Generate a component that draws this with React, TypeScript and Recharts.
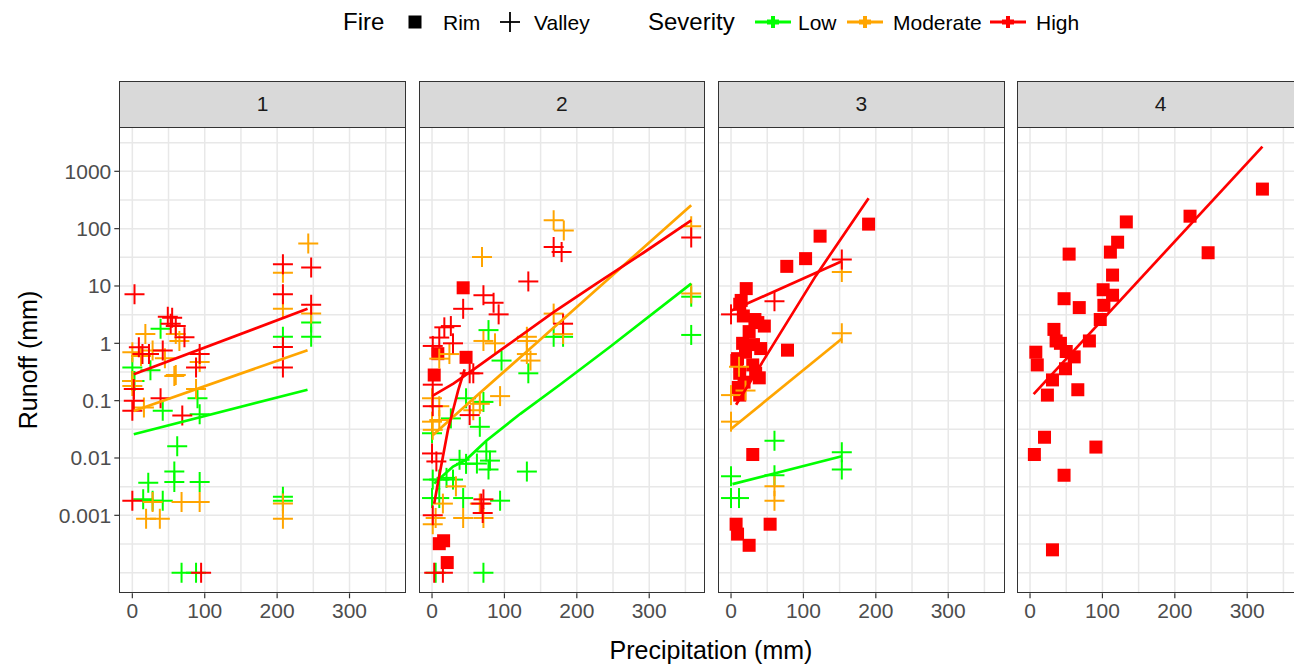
import React from "react";
import { ScatterChart, Scatter, XAxis, YAxis, CartesianGrid } from "recharts";

type Pt = [number, number]; // [precipitation mm, runoff mm]

// ---- facet labels / ticks ----
const facetLabels = ["1", "2", "3", "4"];
const xTicks = [0, 100, 200, 300];
const xMinorTicks = [50, 150, 250, 350];
const yTickValues = [0.001, 0.01, 0.1, 1, 10, 100, 1000];
const yTickLabels = ["0.001", "0.01", "0.1", "1", "10", "100", "1000"];
const yMinorValues = [0.0001, 0.000316, 0.00316, 0.0316, 0.316, 3.16, 31.6, 316, 3162];

// ---- facet 1 (Valley) ----
const p1Low: Pt[] = [
  [0, 0.38], [0, 0.22], [3, 0.22], [25, 0.34], [39, 1.8], [42, 0.067], [90, 0.11], [93, 0.058],
  [62, 0.016], [58, 0.0058], [58, 0.0038], [22, 0.0037], [93, 0.0038], [15, 0.0019], [28, 0.0018],
  [42, 0.0018], [68, 0.0001], [88, 0.0001], [208, 0.0021], [208, 0.0018], [208, 1.3], [247, 2.3], [247, 1.3],
];
const p1Mod: Pt[] = [
  [18, 1.45], [0, 0.7], [28, 0.75], [60, 1.45], [65, 1.1], [58, 0.27], [60, 0.28], [93, 0.47], [88, 0.16],
  [16, 0.076], [0, 0.22], [0, 0.18], [28, 0.0017], [68, 0.0017], [93, 0.0017], [19, 0.00087], [38, 0.00087],
  [208, 17], [208, 4], [208, 0.0016], [208, 0.00087], [243, 55], [247, 3.3], [12, 0.6], [45, 0.55],
];
const p1High: Pt[] = [
  [3, 7.2], [49, 2.9], [55, 2.8], [60, 2.0], [53, 2.2], [9, 0.85], [14, 0.65], [23, 0.65], [42, 0.75],
  [72, 1.27], [93, 0.65], [88, 0.38], [2, 0.1], [0, 0.067], [39, 0.11], [69, 0.055], [2, 0.16], [0, 0.0018],
  [95, 0.0001], [208, 24], [208, 7.2], [208, 0.86], [208, 0.38], [247, 21], [247, 4.7],
];
const p1LineLow: Pt[] = [[2, 0.026], [242, 0.155]];
const p1LineMod: Pt[] = [[2, 0.066], [242, 0.76]];
const p1LineHigh: Pt[] = [[2, 0.29], [242, 4.0]];

// ---- facet 2 (Rim + Valley) ----
const p2Rim: Pt[] = [[43, 9.3], [8, 0.66], [3, 0.28], [47, 0.57], [10, 0.00032], [16, 0.00036], [21, 0.00015]];
const p2Low: Pt[] = [
  [78, 1.7], [96, 0.5], [133, 0.3], [71, 0.095], [47, 0.11], [26, 0.049], [66, 0.035], [0, 0.027],
  [75, 0.013], [78, 0.0063], [131, 0.0058], [38, 0.0093], [47, 0.0079], [1, 0.0042], [10, 0.0042],
  [20, 0.0045], [29, 0.0042], [0, 0.002], [10, 0.002], [43, 0.002], [94, 0.0018], [71, 0.0001], [5, 0.0001],
  [168, 1.3], [181, 1.3], [358, 6.5], [358, 1.4], [62, 0.008], [80, 0.009],
];
const p2Mod: Pt[] = [
  [94, 0.12], [71, 1.1], [87, 1.0], [131, 1.1], [136, 0.5], [0, 0.11], [0, 0.043], [1, 0.031], [10, 0.046],
  [10, 0.08], [57, 0.068], [15, 0.0016], [5, 0.0009], [43, 0.0009], [66, 0.0016], [71, 0.0009], [33, 0.0032],
  [168, 140], [182, 93], [69, 32], [168, 3.3], [181, 1.45], [131, 0.65], [131, 1.3], [358, 110], [358, 7.4],
  [1, 0.0007], [10, 0.54], [24, 0.65], [66, 0.088],
];
const p2High: Pt[] = [
  [133, 12], [71, 6.9], [92, 3.2], [43, 4.0], [17, 1.9], [26, 2.0], [10, 1.26], [1, 0.9], [29, 1.0],
  [52, 0.3], [1, 0.19], [1, 0.08], [52, 0.056], [0, 0.012], [6, 0.0087], [71, 0.0019], [1, 0.001],
  [3, 0.0001], [15, 0.0001], [358, 70], [168, 48], [179, 39], [181, 2.2], [68, 0.0016], [70, 0.0011],
  [85, 5.1], [57, 0.3],
];
const p2LineLow: Pt[] = [[3, 0.0036], [29, 0.0071], [47, 0.0093], [75, 0.02], [122, 0.059], [178, 0.195], [246, 0.87], [358, 11]];
const p2LineMod: Pt[] = [[1, 0.025], [52, 0.095], [131, 0.72], [358, 257]];
const p2LineHigh: Pt[] = [[0, 0.12], [30, 0.2], [60, 0.37], [100, 0.85], [168, 3.5], [227, 11], [292, 38], [358, 140]];
const p2LineRim: Pt[] = [[3, 0.0016], [8, 0.0036], [15, 0.0105], [22, 0.031], [29, 0.068], [36, 0.15], [45, 0.35]];

// ---- facet 3 (Rim + Valley) ----
const p3Rim: Pt[] = [
  [190, 120], [123, 74], [103, 30], [77, 22], [21, 9], [14, 5.6], [37, 2.3], [46, 2.0], [25, 1.6], [16, 1.0],
  [41, 0.81], [78, 0.76], [9, 0.54], [30, 0.42], [39, 0.25], [18, 0.21], [12, 0.125], [30, 0.0115], [7, 0.0007],
  [9, 0.00047], [25, 0.0003], [54, 0.0007], [17, 3.0], [33, 2.6], [20, 0.7], [31, 0.95], [12, 0.3], [34, 0.3],
  [12, 4.8], [8, 0.5], [10, 0.17],
];
const p3Low: Pt[] = [[60, 0.02], [153, 0.0126], [153, 0.0063], [0, 0.0048], [0, 0.002], [11, 0.002], [60, 0.005]];
const p3Mod: Pt[] = [[153, 17.5], [153, 1.5], [11, 0.39], [0, 0.125], [20, 0.15], [0, 0.043], [60, 0.0032], [60, 0.0018]];
const p3High: Pt[] = [[0, 3.2], [60, 5.4], [153, 29]];
const p3LineLow: Pt[] = [[2, 0.0035], [153, 0.0107]];
const p3LineMod: Pt[] = [[0, 0.032], [153, 1.2]];
const p3LineHigh: Pt[] = [[0, 3.7], [153, 27]];
const p3LineRim: Pt[] = [[7, 0.085], [117, 15], [190, 340]];

// ---- facet 4 (Rim) ----
const p4Rim: Pt[] = [
  [54, 36], [121, 58], [111, 39], [133, 131], [114, 15.5], [101, 8.6], [114, 6.9], [47, 6], [68, 4.2],
  [102, 4.6], [97, 2.6], [33, 1.75], [82, 1.1], [8, 0.7], [50, 0.72], [61, 0.58], [10, 0.42], [36, 1.1],
  [49, 0.36], [31, 0.23], [66, 0.155], [24, 0.125], [20, 0.023], [6, 0.0115], [91, 0.0155], [47, 0.005],
  [31, 0.00025], [221, 165], [246, 38], [321, 490], [42, 1.0],
];
const p4LineRim: Pt[] = [[5, 0.13], [321, 2700]];

// ---- styling ----
const FONT = '"Liberation Sans", Arial, Helvetica, sans-serif';
const GREEN = "#00FF00";
const ORANGE = "#FFA500";
const RED = "#FF0000";
const INK = "#333333";

const PANEL_LEFT0 = 119.3;
const PANEL_STEP = 299.3;
const PANEL_W = 286.7;
const PANEL_TOP = 126.7;
const PANEL_H = 466.3;
const STRIP_TOP = 81;
const X_AXIS_H = 50;
const X_DOMAIN: [number, number] = [-18, 378];
const Y_DOMAIN: [number, number] = [-4.36, 3.773];

const toXY = (pts: Pt[]) => pts.map(([x, v]) => ({ x, y: Math.log10(v) }));
const yTickPos = yTickValues.map((v) => Math.round(Math.log10(v)));
const yGrid = [...yTickPos, ...yMinorValues.map((v) => Math.log10(v))];
const xGrid = [...xTicks, ...xMinorTicks];

interface Facet {
  label: string;
  rim: Pt[];
  low: Pt[];
  mod: Pt[];
  high: Pt[];
  lines: { color: string; pts: Pt[] }[];
}

const facets: Facet[] = [
  {
    label: facetLabels[0], rim: [], low: p1Low, mod: p1Mod, high: p1High,
    lines: [{ color: GREEN, pts: p1LineLow }, { color: ORANGE, pts: p1LineMod }, { color: RED, pts: p1LineHigh }],
  },
  {
    label: facetLabels[1], rim: p2Rim, low: p2Low, mod: p2Mod, high: p2High,
    lines: [
      { color: GREEN, pts: p2LineLow }, { color: ORANGE, pts: p2LineMod },
      { color: RED, pts: p2LineHigh }, { color: RED, pts: p2LineRim },
    ],
  },
  {
    label: facetLabels[2], rim: p3Rim, low: p3Low, mod: p3Mod, high: p3High,
    lines: [
      { color: GREEN, pts: p3LineLow }, { color: ORANGE, pts: p3LineMod },
      { color: RED, pts: p3LineHigh }, { color: RED, pts: p3LineRim },
    ],
  },
  {
    label: facetLabels[3], rim: p4Rim, low: [], mod: [], high: [],
    lines: [{ color: RED, pts: p4LineRim }],
  },
];

const crossShape = (color: string) => (p: any) =>
  p.cx == null ? <g /> : (
    <g stroke={color} strokeWidth={2}>
      <line x1={p.cx - 10} y1={p.cy} x2={p.cx + 10} y2={p.cy} />
      <line x1={p.cx} y1={p.cy - 10} x2={p.cx} y2={p.cy + 10} />
    </g>
  );

const squareShape = (color: string) => (p: any) =>
  p.cx == null ? <g /> : <rect x={p.cx - 6.5} y={p.cy - 6.5} width={13} height={13} fill={color} />;

const noShape = () => <g />;

const tickStyle = { fill: "#4d4d4d", fontSize: 21, fontFamily: FONT };

function FacetPanel({ facet, index }: { facet: Facet; index: number }) {
  const first = index === 0;
  const left = PANEL_LEFT0 + PANEL_STEP * index;
  const yAxisW = first ? PANEL_LEFT0 : 0;
  return (
    <>
      <div
        style={{
          position: "absolute", left, top: STRIP_TOP, width: PANEL_W, height: PANEL_TOP - STRIP_TOP + 1,
          boxSizing: "border-box", background: "#d9d9d9", border: `1.2px solid ${INK}`,
          display: "flex", alignItems: "center", justifyContent: "center",
          fontFamily: FONT, fontSize: 21, color: "#1a1a1a",
        }}
      >
        {facet.label}
      </div>
      <div style={{ position: "absolute", left: left - yAxisW, top: PANEL_TOP }}>
        <ScatterChart
          width={PANEL_W + yAxisW}
          height={PANEL_H + X_AXIS_H}
          margin={{ top: 0, right: 0, bottom: 0, left: 0 }}
        >
          <CartesianGrid
            stroke="#e8e8e8"
            strokeWidth={1.5}
            horizontalValues={yGrid}
            verticalValues={xGrid}
          />
          <XAxis
            type="number"
            dataKey="x"
            domain={X_DOMAIN}
            allowDataOverflow
            ticks={xTicks}
            interval={0}
            axisLine={false}
            tickLine={{ stroke: INK, strokeWidth: 1.2 }}
            tickSize={5}
            tickMargin={5}
            tick={tickStyle}
            height={X_AXIS_H}
          />
          <YAxis
            type="number"
            dataKey="y"
            domain={Y_DOMAIN}
            allowDataOverflow
            ticks={yTickPos}
            interval={0}
            hide={!first}
            width={yAxisW}
            axisLine={false}
            tickLine={{ stroke: INK, strokeWidth: 1.2 }}
            tickSize={5}
            tickMargin={3}
            tick={tickStyle}
            tickFormatter={(_v: number, i: number) => yTickLabels[i]}
          />
          {facet.rim.length > 0 && (
            <Scatter data={toXY(facet.rim)} shape={squareShape(RED)} isAnimationActive={false} />
          )}
          {facet.low.length > 0 && (
            <Scatter data={toXY(facet.low)} shape={crossShape(GREEN)} isAnimationActive={false} />
          )}
          {facet.mod.length > 0 && (
            <Scatter data={toXY(facet.mod)} shape={crossShape(ORANGE)} isAnimationActive={false} />
          )}
          {facet.high.length > 0 && (
            <Scatter data={toXY(facet.high)} shape={crossShape(RED)} isAnimationActive={false} />
          )}
          {facet.lines.map((l, i) => (
            <Scatter
              key={i}
              data={toXY(l.pts)}
              line={{ stroke: l.color, strokeWidth: 2.7 }}
              lineJointType="linear"
              shape={noShape}
              isAnimationActive={false}
            />
          ))}
        </ScatterChart>
      </div>
      <div
        style={{
          position: "absolute", left, top: PANEL_TOP, width: PANEL_W, height: PANEL_H,
          boxSizing: "border-box", border: `1.2px solid ${INK}`, pointerEvents: "none",
        }}
      />
    </>
  );
}

const textAt = (left: number, size: number, text: string) => (
  <div
    style={{
      position: "absolute", left, top: 22, transform: "translateY(-50%)",
      fontFamily: FONT, fontSize: size, color: "#000", whiteSpace: "nowrap", lineHeight: 1,
    }}
  >
    {text}
  </div>
);

function SeverityKey({ cx, color }: { cx: number; color: string }) {
  return (
    <svg width={38} height={20} style={{ position: "absolute", left: cx - 19, top: 12 }}>
      <line x1={1} y1={10} x2={37} y2={10} stroke={color} strokeWidth={3} />
      <line x1={13} y1={10} x2={25} y2={10} stroke={color} strokeWidth={5} />
      <line x1={19} y1={4} x2={19} y2={16} stroke={color} strokeWidth={4} />
    </svg>
  );
}

export default function App() {
  return (
    <div
      style={{
        position: "fixed", left: 0, top: 0, width: 1294, height: 667,
        overflow: "hidden", background: "#fff",
      }}
    >
      {/* legend */}
      {textAt(343, 24, "Fire")}
      <svg width={14} height={14} style={{ position: "absolute", left: 408, top: 15 }}>
        <rect x={0.5} y={0.5} width={13} height={13} fill="#000" />
      </svg>
      {textAt(443, 21, "Rim")}
      <svg width={22} height={22} style={{ position: "absolute", left: 499, top: 11 }}>
        <line x1={1} y1={11} x2={21} y2={11} stroke="#000" strokeWidth={1.8} />
        <line x1={11} y1={1} x2={11} y2={21} stroke="#000" strokeWidth={1.8} />
      </svg>
      {textAt(534, 21, "Valley")}
      {textAt(648, 24, "Severity")}
      <SeverityKey cx={773} color={GREEN} />
      {textAt(798, 21, "Low")}
      <SeverityKey cx={865} color={ORANGE} />
      {textAt(893, 21, "Moderate")}
      <SeverityKey cx={1008} color={RED} />
      {textAt(1036, 21, "High")}

      {facets.map((f, i) => (
        <FacetPanel key={i} facet={f} index={i} />
      ))}

      {/* axis titles */}
      <div
        style={{
          position: "absolute", left: 711, top: 650, transform: "translate(-50%, -50%)",
          fontFamily: FONT, fontSize: 25, color: "#000", whiteSpace: "nowrap", lineHeight: 1,
        }}
      >
        Precipitation (mm)
      </div>
      <div
        style={{
          position: "absolute", left: 28, top: 360, transform: "translate(-50%, -50%) rotate(-90deg)",
          fontFamily: FONT, fontSize: 25, color: "#000", whiteSpace: "nowrap", lineHeight: 1,
        }}
      >
        Runoff (mm)
      </div>
    </div>
  );
}
